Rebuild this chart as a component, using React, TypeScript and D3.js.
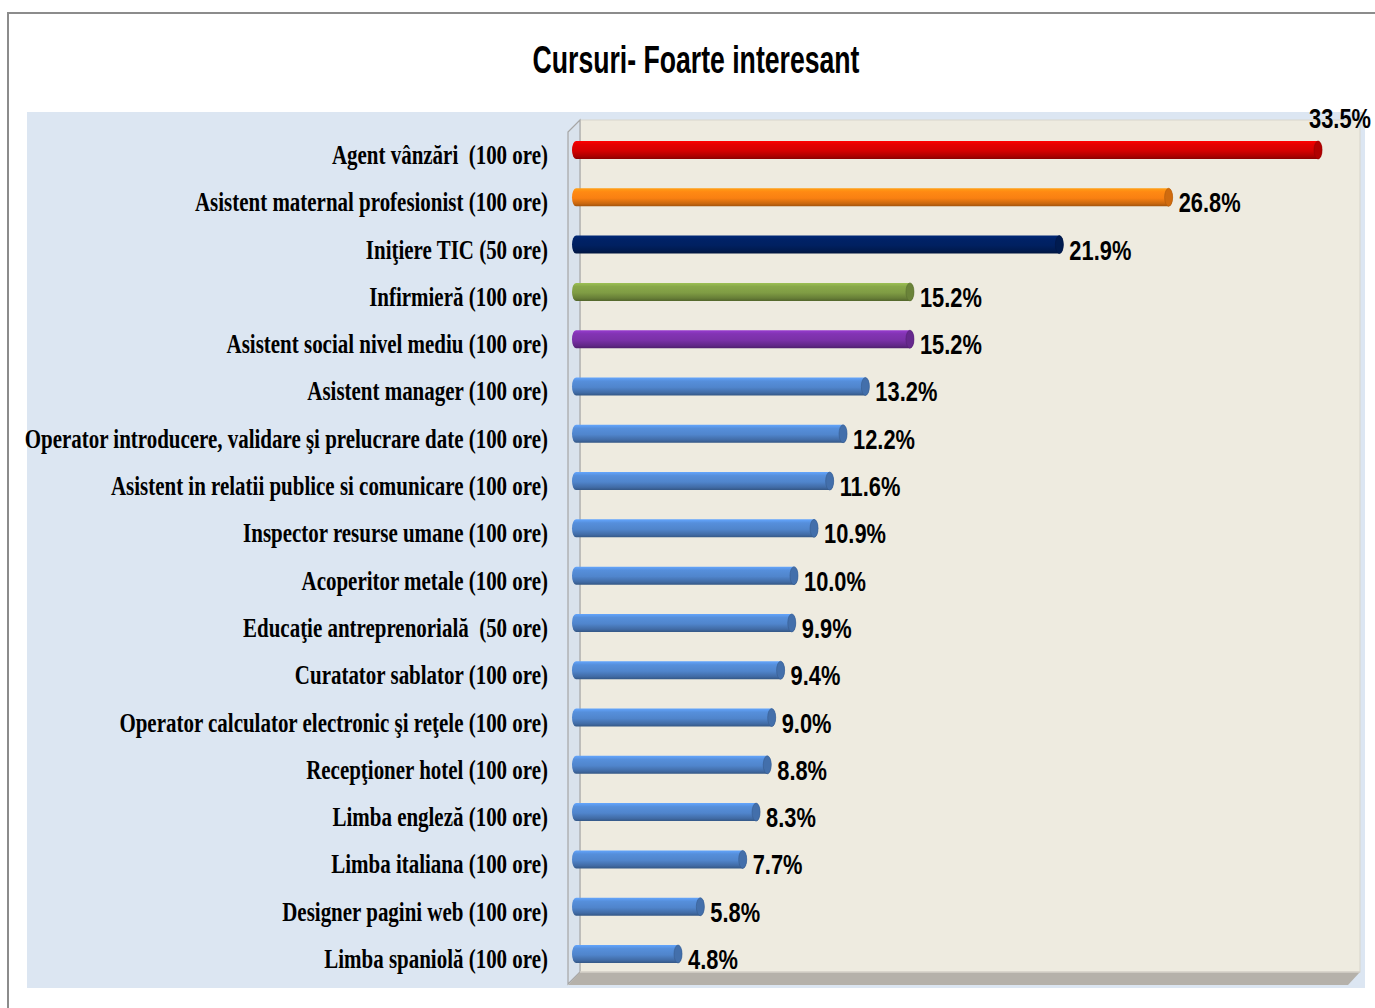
import React, { useLayoutEffect, useState } from "react";
import * as d3 from "d3";

const title = "Cursuri- Foarte interesant";
const categories = [
  "Agent vânzări  (100 ore)",
  "Asistent maternal profesionist (100 ore)",
  "Iniţiere TIC (50 ore)",
  "Infirmieră (100 ore)",
  "Asistent social nivel mediu (100 ore)",
  "Asistent manager (100 ore)",
  "Operator introducere, validare şi prelucrare date (100 ore)",
  "Asistent in relatii publice si comunicare (100 ore)",
  "Inspector resurse umane (100 ore)",
  "Acoperitor metale (100 ore)",
  "Educaţie antreprenorială  (50 ore)",
  "Curatator sablator (100 ore)",
  "Operator calculator electronic şi reţele (100 ore)",
  "Recepţioner hotel (100 ore)",
  "Limba engleză (100 ore)",
  "Limba italiana (100 ore)",
  "Designer pagini web (100 ore)",
  "Limba spaniolă (100 ore)",
];
const values = [33.5, 26.8, 21.9, 15.2, 15.2, 13.2, 12.2, 11.6, 10.9, 10.0, 9.9, 9.4, 9.0, 8.8, 8.3, 7.7, 5.8, 4.8];
const barColors = ["#d40000", "#f98012", "#002060", "#7f9c44", "#7a30a8"];
const defaultColor = "#5085cc";

const W = 1375;
const H = 1008;
const SANS = "'Liberation Sans Narrow', 'Liberation Sans', sans-serif";
const SERIF = "'Liberation Serif', serif";

function measure(text: string, font: string): number {
  const c = document.createElement("canvas");
  const ctx = c.getContext("2d");
  if (!ctx) return 0;
  ctx.font = font;
  return ctx.measureText(text).width;
}

export default function App() {
  const [sx, setSx] = useState(0.78);
  const [tsx, setTsx] = useState(0.8);
  const [vsx, setVsx] = useState(0.82);
  const longest = categories.reduce((a, b) => (b.length > a.length ? b : a), "");

  useLayoutEffect(() => {
    const w1 = measure(longest, `bold 27px ${SERIF}`);
    if (w1 > 0) setSx(524 / w1);
    const w2 = measure(title, `bold 38px ${SANS}`);
    if (w2 > 0) setTsx(327 / w2);
    const w3 = measure("26.8%", `bold 27px ${SANS}`);
    if (w3 > 0) setVsx(62 / w3);
  }, []);

  const y = d3.scalePoint<string>().domain(categories).range([150, 954]);
  const x = d3.scaleLinear().domain([0, 35]).range([575, 575 + 35 * 22.3]);
  const barH = 18;

  const wallL = 580, wallR = 1360, wallT = 120, wallB = 972, depth = 12;

  return (
    <svg width={W} height={H} style={{ position: "absolute", left: 0, top: 0, display: "block" }}>
      <defs>
        {values.map((_, i) => {
          const rgb = d3.rgb(barColors[i] ?? defaultColor);
          return (
            <linearGradient key={i} id={`g${i}`} x1="0" y1="0" x2="0" y2="1">
              <stop offset="0%" stopColor={rgb.brighter(0.6).formatHex()} />
              <stop offset="20%" stopColor={rgb.brighter(0.2).formatHex()} />
              <stop offset="55%" stopColor={rgb.formatHex()} />
              <stop offset="85%" stopColor={rgb.darker(0.6).formatHex()} />
              <stop offset="100%" stopColor={rgb.darker(1.2).formatHex()} />
            </linearGradient>
          );
        })}
      </defs>
      <rect x={0} y={0} width={W} height={H} fill="#ffffff" />
      {/* outer frame */}
      <line x1={8} y1={13} x2={8} y2={H} stroke="#8c8c8c" strokeWidth={2} />
      <line x1={7} y1={13} x2={W} y2={13} stroke="#8c8c8c" strokeWidth={2} />
      {/* plot area background */}
      <rect x={27} y={112} width={1338} height={876} fill="#dce6f2" />
      {/* back wall */}
      <rect x={wallL} y={wallT} width={wallR - wallL} height={wallB - wallT} fill="#eeebe0" stroke="#d8d5cc" strokeWidth={1} />
      {/* left side wall */}
      <path
        d={`M${wallL - depth},${wallT + depth} L${wallL},${wallT} L${wallL},${wallB} L${wallL - depth},${wallB + depth} Z`}
        fill="#d9e2ec"
        stroke="#a6a6a6"
        strokeWidth={1.2}
      />
      {/* floor */}
      <path
        d={`M${wallL - depth},${wallB + depth + 1} L${wallL},${wallB} L${wallR},${wallB} L${wallR - depth},${wallB + depth + 1} Z`}
        fill="#b5b1aa"
      />
      <line x1={wallL} y1={wallB} x2={wallR} y2={wallB} stroke="#d6d2c8" strokeWidth={1.5} />

      {/* title */}
      <text
        transform={`translate(696,73) scale(${tsx},1)`}
        textAnchor="middle"
        fontFamily={SANS}
        fontWeight="bold"
        fontSize={38}
        fill="#000"
      >
        {title}
      </text>

      {/* category labels */}
      {categories.map((c) => (
        <text
          key={c}
          transform={`translate(548,${(y(c) ?? 0) + 14}) scale(${sx},1)`}
          textAnchor="end"
          fontFamily={SERIF}
          fontWeight="bold"
          fontSize={27}
          fill="#000"
          style={{ whiteSpace: "pre" }}
        >
          {c}
        </text>
      ))}

      {/* bars */}
      {values.map((v, i) => {
        const cy = y(categories[i]) ?? 0;
        const x0 = 572;
        const x1 = x(v);
        const rx = 4;
        const top = cy - barH / 2;
        const base = d3.rgb(barColors[i] ?? defaultColor);
        return (
          <g key={i}>
            <path
              d={`M${x0 + rx},${top} L${x1 - rx},${top} A${rx},${barH / 2} 0 0 1 ${x1 - rx},${top + barH} L${x0 + rx},${top + barH} A${rx},${barH / 2} 0 0 1 ${x0 + rx},${top} Z`}
              fill={`url(#g${i})`}
            />
            <ellipse cx={x1 - rx} cy={cy} rx={rx} ry={barH / 2} fill={base.darker(0.5).formatHex()} stroke={base.darker(1).formatHex()} strokeWidth={0.6} />
          </g>
        );
      })}

      {/* value labels */}
      {values.map((v, i) => {
        const cy = y(categories[i]) ?? 0;
        const lbl = `${v.toFixed(1)}%`;
        const xEnd = x(v);
        const outside = xEnd + 6 + 62 > 1372;
        const tx = outside ? 1371 : xEnd + 6;
        const ty = outside ? cy - 22 : cy + 15;
        return (
          <text
            key={i}
            transform={`translate(${tx},${ty}) scale(${vsx},1)`}
            textAnchor={outside ? "end" : "start"}
            fontFamily={SANS}
            fontWeight="bold"
            fontSize={27}
            fill="#000"
          >
            {lbl}
          </text>
        );
      })}
    </svg>
  );
}
